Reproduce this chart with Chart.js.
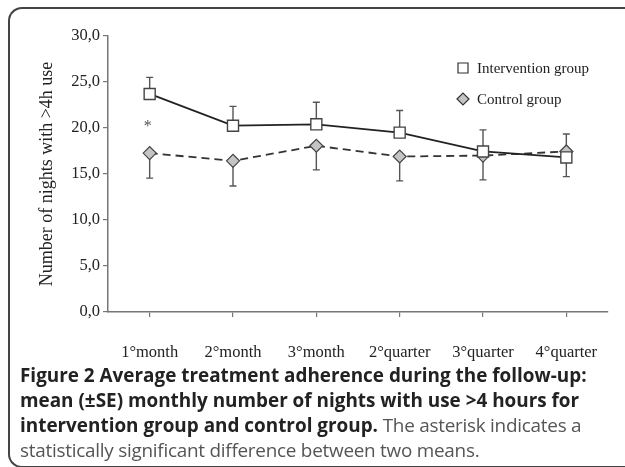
<!DOCTYPE html>
<html>
<head>
<meta charset="utf-8">
<script src="https://cdn.jsdelivr.net/npm/chart.js@4"></script>
<style>
  html, body { margin: 0; padding: 0; background: #fff; }
  #page { width: 625px; height: 467px; position: relative; overflow: hidden; }
  #frame {
    position: absolute; left: 8px; top: 7px; width: 760px; height: 457px;
    border: 2px solid #444; border-right: none; border-radius: 14px 0 0 14px;
  }
  #wrap { position: absolute; left: 0; top: 0; width: 625px; height: 365px; }
  #caption {
    position: absolute; left: 20px; top: 363px; width: 610px; white-space: nowrap;
    font-family: "Open Sans", sans-serif; font-size: 18.9px; line-height: 25px;
    color: #555; letter-spacing: -0.25px;
  }
  #caption b { color: #222; font-weight: 700; letter-spacing: 0; }
</style>
</head>
<body>
<div id="page">
<div id="frame"></div>
<div id="wrap"><canvas id="chart"></canvas></div>
<div id="caption"><b>Figure 2 Average treatment adherence during the follow-up:<br>mean (±SE) monthly number of nights with use &gt;4 hours for<br>intervention group and control group.</b> The asterisk indicates a<br>statistically significant difference between two means.</div>
</div>
<script>
// Chart data
const periods = ["1°month", "2°month", "3°month", "2°quarter", "3°quarter", "4°quarter"];
const interventionMean = [23.7, 20.25, 20.4, 19.5, 17.45, 16.8];
const interventionSE = [1.8, 2.1, 2.4, 2.4, 2.35, 2.55];
const controlMean = [17.27, 16.43, 18.07, 16.9, 17.0, 17.45];
const controlSE = [2.72, 2.73, 2.62, 2.65, 2.64, 2.73];
const asteriskAt = [20.5, null, null, null, null, null];
const yTicks = [0, 5, 10, 15, 20, 25, 30];

const serif = "'Liberation Serif', 'Times New Roman', serif";

// Error bars: intervention upward, control downward
const errorBars = {
  id: "errorBars",
  beforeDatasetsDraw(chart) {
    const ctx = chart.ctx;
    const x = chart.scales.x;
    const y = chart.scales.y;
    ctx.save();
    ctx.strokeStyle = "#555";
    ctx.lineWidth = 1.4;
    const cap = 3.5;
    periods.forEach((p, i) => {
      const px = x.getPixelForValue(i);
      const y0 = y.getPixelForValue(interventionMean[i]);
      const y1 = y.getPixelForValue(interventionMean[i] + interventionSE[i]);
      ctx.beginPath();
      ctx.moveTo(px, y0); ctx.lineTo(px, y1);
      ctx.moveTo(px - cap, y1); ctx.lineTo(px + cap, y1);
      const c0 = y.getPixelForValue(controlMean[i]);
      const c1 = y.getPixelForValue(controlMean[i] - controlSE[i]);
      ctx.moveTo(px, c0); ctx.lineTo(px, c1);
      ctx.moveTo(px - cap, c1); ctx.lineTo(px + cap, c1);
      ctx.stroke();
    });
    ctx.restore();
  },
  afterDatasetsDraw(chart) {
    const ctx = chart.ctx;
    const x = chart.scales.x;
    const y = chart.scales.y;
    ctx.save();
    ctx.fillStyle = "#555";
    ctx.font = "16px " + serif;
    ctx.textAlign = "center";
    ctx.textBaseline = "middle";
    asteriskAt.forEach((v, i) => {
      if (v === null) return;
      ctx.fillText("*", x.getPixelForValue(i) - 2, y.getPixelForValue(v) + 3);
    });
    ctx.restore();
  }
};

// Legend drawn inside the plot area, stacked
const innerLegend = {
  id: "innerLegend",
  afterDraw(chart) {
    const ctx = chart.ctx;
    const area = chart.chartArea;
    const lx = area.right - 145;
    const rows = [area.top + 32, area.top + 63];
    ctx.save();
    ctx.font = "15px " + serif;
    ctx.textBaseline = "middle";
    chart.data.datasets.forEach((ds, i) => {
      const cy = rows[i];
      ctx.fillStyle = ds.pointBackgroundColor;
      ctx.strokeStyle = "#333";
      ctx.lineWidth = 1.2;
      ctx.beginPath();
      if (ds.pointStyle === "rect") {
        ctx.rect(lx - 5, cy - 5, 10, 10);
      } else {
        ctx.moveTo(lx - 6, cy); ctx.lineTo(lx, cy - 6);
        ctx.lineTo(lx + 6, cy); ctx.lineTo(lx, cy + 6);
        ctx.closePath();
      }
      ctx.fill();
      ctx.stroke();
      ctx.fillStyle = "#222";
      ctx.fillText(ds.label, lx + 14, cy + 1);
    });
    ctx.restore();
  }
};

const ctx = document.getElementById("chart").getContext("2d");
new Chart(ctx, {
  type: "line",
  data: {
    labels: periods,
    datasets: [
      {
        label: "Intervention group",
        data: interventionMean,
        borderColor: "#222",
        borderWidth: 1.8,
        pointStyle: "rect",
        pointRadius: 7.8,
        pointBackgroundColor: "#ffffff",
        pointBorderColor: "#444",
        pointBorderWidth: 1.4,
        tension: 0
      },
      {
        label: "Control group",
        data: controlMean,
        borderColor: "#333",
        borderWidth: 1.8,
        borderDash: [8, 5],
        pointStyle: "rectRot",
        pointRadius: 6.5,
        pointBackgroundColor: "#c4c4c4",
        pointBorderColor: "#444",
        pointBorderWidth: 1.2,
        tension: 0
      }
    ]
  },
  options: {
    responsive: true,
    maintainAspectRatio: false,
    animation: false,
    layout: { padding: { left: 30, top: 36, right: 17, bottom: 0 } },
    plugins: {
      legend: { display: false },
      tooltip: { enabled: false }
    },
    scales: {
      x: {
        offset: true,
        afterFit(scale) {
          scale.height = 53;
        },
        grid: { display: true, drawOnChartArea: false, offset: false, tickLength: 5, color: "#777", lineWidth: 1.2 },
        border: { display: true, color: "#777", width: 1.5 },
        ticks: { color: "#222", font: { family: serif, size: 16.5 }, padding: 26, maxRotation: 0, autoSkip: false }
      },
      y: {
        min: 0,
        max: 30,
        afterBuildTicks(scale) {
          scale.ticks = yTicks.map(v => ({ value: v }));
        },
        afterFit(scale) {
          scale.width = 78;
        },
        grid: { display: true, drawOnChartArea: false, tickLength: 5, color: "#777", lineWidth: 1.2 },
        border: { display: true, color: "#777", width: 1.5 },
        ticks: {
          color: "#222",
          font: { family: serif, size: 16.5 },
          padding: 3,
          callback: v => v.toFixed(1).replace(".", ",")
        },
        title: {
          display: true,
          text: "Number of nights with >4h use",
          color: "#222",
          font: { family: serif, size: 18 },
          padding: { top: 6, bottom: 0 }
        }
      }
    }
  },
  plugins: [errorBars, innerLegend]
});
</script>
</body>
</html>
